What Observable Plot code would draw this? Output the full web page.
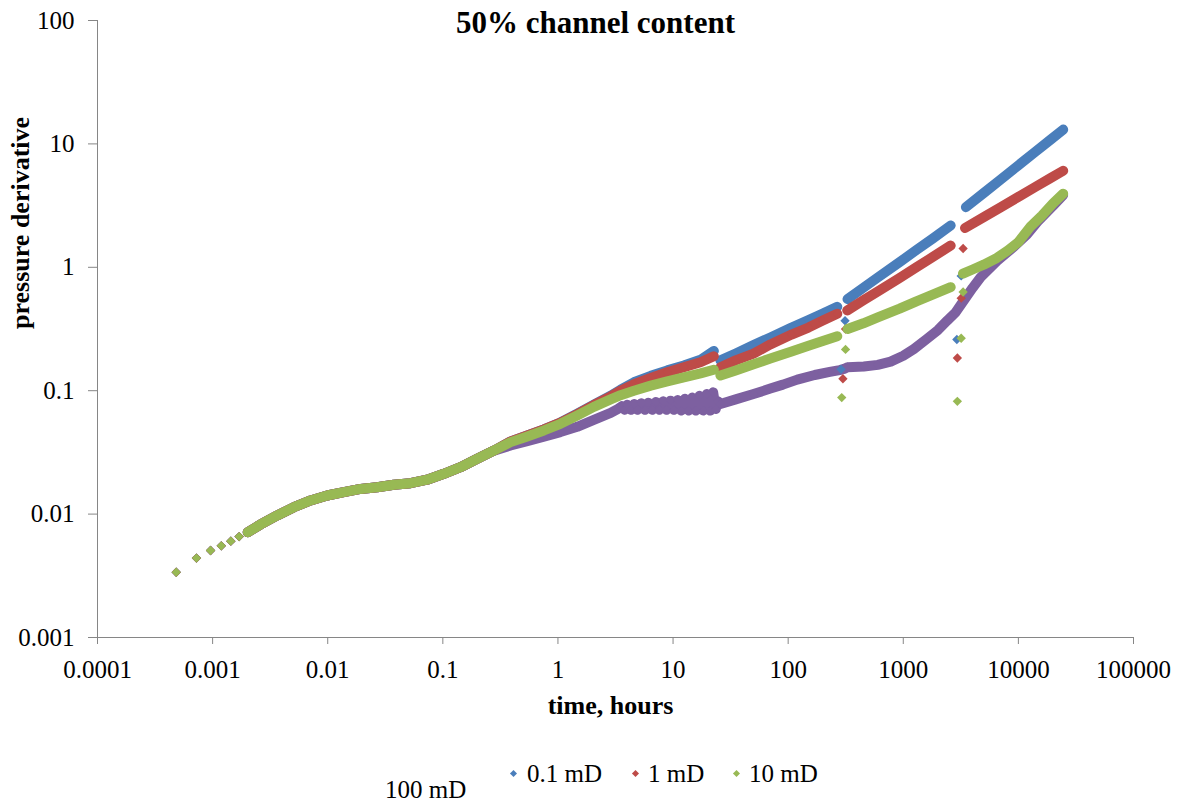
<!DOCTYPE html>
<html><head><meta charset="utf-8">
<script src="https://cdn.jsdelivr.net/npm/d3@7"></script>
<script src="https://cdn.jsdelivr.net/npm/@observablehq/plot@0.6"></script>
<style>
body{margin:0;background:#fff;}
#wrap{position:relative;width:1184px;height:809px;font-family:"Liberation Serif","Times New Roman",serif;color:#000;background:#fff;}
#wrap svg text{font-family:"Liberation Serif","Times New Roman",serif;}
.lg{position:absolute;font-size:25px;line-height:25px;white-space:nowrap;font-family:"Liberation Serif","Times New Roman",serif;}
.mk{position:absolute;width:5px;height:5px;transform:rotate(45deg);}
</style></head><body><div id="wrap"></div>
<script>
// ---- data ----
const seriesNames = ["100 mD", "0.1 mD", "1 mD", "10 mD"];   // drawing order
const seriesColors = ["#7D60A0", "#4A7EBB", "#BE4B48", "#98B954"];

const xTicks = [0.0001, 0.001, 0.01, 0.1, 1, 10, 100, 1000, 10000, 100000];
const xTickLabels = ["0.0001", "0.001", "0.01", "0.1", "1", "10", "100", "1000", "10000", "100000"];
const yTicks = [0.001, 0.01, 0.1, 1, 10, 100];
const yTickLabels = ["0.001", "0.01", "0.1", "1", "10", "100"];

// early sparse points, identical for all four curves
const commonEarly = [[0.000483, 0.00338], [0.000724, 0.00440], [0.00096, 0.00507], [0.00119, 0.00553], [0.00144, 0.00603], [0.00170, 0.00657]];
// dense band shared by all four curves
const commonBand = [[0.00202, 0.00713], [0.00261, 0.00824], [0.00364, 0.00975], [0.00508, 0.01138], [0.0071, 0.0129], [0.0099, 0.01415], [0.0138, 0.01507], [0.0193, 0.0160], [0.0269, 0.0165], [0.0375, 0.0173], [0.0524, 0.0178], [0.0731, 0.0190], [0.102, 0.0212], [0.1425, 0.0240], [0.199, 0.0281], [0.278, 0.0327]];

// null = gap in the curve
const purpleTail = [[0.388, 0.036], [0.541, 0.039], [0.755, 0.0425], [1.05, 0.0462], [1.47, 0.051], [2.05, 0.058], [2.87, 0.066], [3.3, 0.071],
  [3.6, 0.075], [3.8, 0.070], [4.0, 0.077], [4.3, 0.070], [4.6, 0.078], [4.9, 0.070], [5.3, 0.079], [5.7, 0.070], [6.1, 0.080], [6.6, 0.070], [7.1, 0.081], [7.6, 0.070], [8.2, 0.082], [8.8, 0.070], [9.5, 0.083], [10.2, 0.070], [11, 0.084], [11.8, 0.069], [12.7, 0.086], [13.7, 0.069], [14.7, 0.088], [15.8, 0.069], [17, 0.091], [18.3, 0.069], [19.7, 0.094], [21, 0.069], [22.3, 0.097], [23.5, 0.071], [24.5, 0.082],
  [25.8, 0.078], [35, 0.085], [50, 0.094], [70, 0.104], [90, 0.112], [120, 0.123], [170, 0.134], [230, 0.142], [280, 0.147], [305, 0.150], [328, 0.155], [455, 0.157], [600, 0.162], [776, 0.172], [1000, 0.192], [1237, 0.218], [1594, 0.262], [2000, 0.31], [2410, 0.37], [2844, 0.43], [3180, 0.50], [4000, 0.68], [4700, 0.83], [6560, 1.13], [9150, 1.47], [11900, 1.85], [15000, 2.4], [20000, 3.15], [24500, 3.85]];
const blueTail = [[0.388, 0.0388], [0.541, 0.0433], [0.755, 0.0485], [1.05, 0.0552], [1.47, 0.065], [2.05, 0.077], [2.87, 0.091], [3.5, 0.102], [4.57, 0.117], [6.4, 0.132], [8.9, 0.146], [12.4, 0.160], [17.3, 0.178], [22.6, 0.210], null,
  [25.8, 0.176], [35, 0.20], [50, 0.234], [70, 0.27], [107, 0.325], [150, 0.373], [200, 0.422], [267, 0.478], null,
  [328, 0.552], [450, 0.682], [600, 0.826], [929, 1.10], [1300, 1.38], [1800, 1.71], [2580, 2.18], null,
  [3500, 3.07], [5000, 4.0], [7000, 5.14], [10000, 6.71], [14000, 8.62], [19000, 10.8], [24500, 13.06]];
const redTail = [[0.388, 0.0388], [0.541, 0.0433], [0.755, 0.0485], [1.05, 0.055], [1.47, 0.0645], [2.05, 0.0765], [2.87, 0.090], [3.5, 0.100], [4.57, 0.113], [6.4, 0.127], [8.9, 0.141], [12.4, 0.155], [17.3, 0.170], [22.6, 0.190], null,
  [25.8, 0.155], [35, 0.176], [50, 0.20], [70, 0.237], [107, 0.285], [150, 0.325], [200, 0.37], [267, 0.42], null,
  [326, 0.447], [450, 0.54], [600, 0.638], [929, 0.82], [1300, 1.0], [1800, 1.21], [2580, 1.50], null,
  [3440, 2.08], [5000, 2.55], [7000, 3.06], [10000, 3.72], [14000, 4.47], [19000, 5.28], [24500, 6.06]];
const greenTail = [[0.388, 0.0383], [0.541, 0.0426], [0.755, 0.0476], [1.05, 0.0539], [1.47, 0.063], [2.05, 0.074], [2.87, 0.085], [3.5, 0.092], [4.57, 0.100], [6.4, 0.110], [8.9, 0.119], [12.4, 0.128], [17.3, 0.138], [22.6, 0.148], null,
  [25.8, 0.133], [35, 0.146], [50, 0.164], [70, 0.182], [107, 0.208], [150, 0.231], [200, 0.253], [267, 0.276], null,
  [328, 0.316], [450, 0.352], [600, 0.393], [929, 0.462], [1300, 0.53], [1800, 0.60], [2580, 0.69], null,
  [3300, 0.89], [4000, 0.96], [5000, 1.05], [6500, 1.19], [8000, 1.36], [10000, 1.6], [12800, 2.15], [16000, 2.62], [20000, 3.3], [24500, 3.95]];

// isolated points at the rate changes
const purpleOut = [];
const blueOut = [[288, 0.149], [312, 0.369], [2920, 0.26], [3185, 0.851]];
const redOut = [[299, 0.125], [315, 0.316], [2950, 0.184], [3185, 0.562], [3310, 1.42]];
const greenOut = [[292, 0.088], [315, 0.216], [2950, 0.082], [3185, 0.266], [3310, 0.631]];

const tails = [purpleTail, blueTail, redTail, greenTail];
const outs = [purpleOut, blueOut, redOut, greenOut];

// ---- build tables ----
const FONT = "'Liberation Serif', 'Times New Roman', serif";
const toRow = name => p => p ? {series: name, t: p[0], v: p[1]} : {series: name, t: NaN, v: NaN};
const marks = [];
seriesNames.forEach((name, k) => {
  const color = seriesColors[k];
  const lineRows = [...commonBand, ...tails[k]].map(toRow(name));
  const dotRows = [...commonEarly, ...commonBand, ...tails[k].filter(p => p), ...outs[k]].map(toRow(name));
  marks.push(Plot.line(lineRows, {x: "t", y: "v", stroke: color, strokeWidth: 10, strokeLinecap: "round", strokeLinejoin: "round"}));
  marks.push(Plot.dot(dotRows, {x: "t", y: "v", fill: color, symbol: "diamond2", r: 4.2, stroke: "none"}));
});

const chart = Plot.plot({
  width: 1184, height: 745,
  marginTop: 20, marginLeft: 97, marginRight: 51, marginBottom: 108,
  x: {type: "log", domain: [0.0001, 100000]},
  y: {type: "log", domain: [0.001, 100]},
  style: {fontFamily: FONT, background: "#fff", color: "#000", overflow: "visible"},
  marks: [
    Plot.ruleX([0.0001], {stroke: "#868686", strokeWidth: 1}),
    Plot.ruleY([0.001], {stroke: "#868686", strokeWidth: 1}),
    Plot.axisX({ticks: xTicks, tickFormat: d => xTickLabels[xTicks.indexOf(d)], tickSize: 7, tickPadding: 16, fontSize: 25, fontFamily: FONT, stroke: "#868686", fill: "#000", label: null}),
    Plot.axisY({ticks: yTicks, tickFormat: d => yTickLabels[yTicks.indexOf(d)], tickSize: 9, tickPadding: 14, fontSize: 25, fontFamily: FONT, stroke: "#868686", fill: "#000", label: null}),
    ...marks,
    Plot.text(["50% channel content"], {frameAnchor: "top", lineAnchor: "top", dx: -20, dy: -10, fontSize: 31, fontWeight: "bold", fontFamily: FONT, fill: "#000"}),
    Plot.text(["time, hours"], {frameAnchor: "bottom", lineAnchor: "top", dx: -5, dy: 58, fontSize: 26, fontWeight: "bold", fontFamily: FONT, fill: "#000"}),
    Plot.text(["pressure derivative"], {frameAnchor: "left", lineAnchor: "top", rotate: -90, dx: -87, fontSize: 26, fontWeight: "bold", fontFamily: FONT, fill: "#000"})
  ]
});

const wrap = document.getElementById("wrap");
wrap.appendChild(chart);

// legend (below the plot)
const legendItems = [
  {label: "0.1 mD", color: seriesColors[1], mx: 513, tx: 527},
  {label: "1 mD", color: seriesColors[2], mx: 635, tx: 648},
  {label: "10 mD", color: seriesColors[3], mx: 736, tx: 749}
];
legendItems.forEach(it => {
  const m = document.createElement("div");
  m.className = "mk";
  m.style.left = (it.mx - 2.5) + "px";
  m.style.top = (773 - 2.5) + "px";
  m.style.background = it.color;
  wrap.appendChild(m);
  const s = document.createElement("span");
  s.className = "lg";
  s.style.left = it.tx + "px";
  s.style.top = "761px";
  s.textContent = it.label;
  wrap.appendChild(s);
});
const lone = document.createElement("span");
lone.className = "lg";
lone.style.left = "385px";
lone.style.top = "777px";
lone.textContent = seriesNames[0];
wrap.appendChild(lone);
</script></body></html>
